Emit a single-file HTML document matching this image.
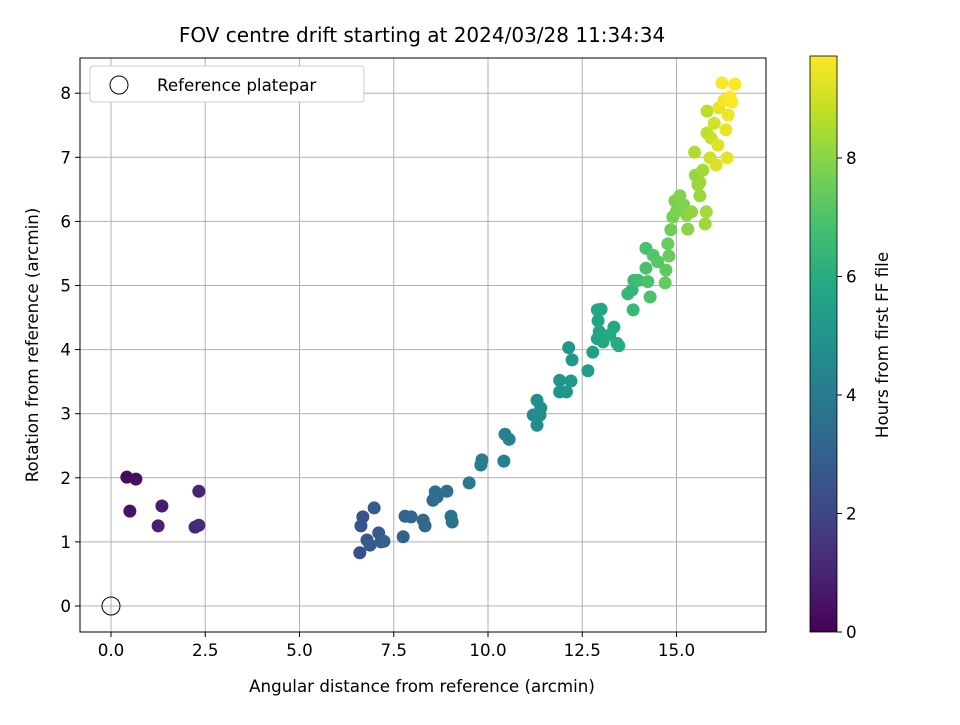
<!DOCTYPE html>
<html><head><meta charset="utf-8"><style>
body{margin:0;background:#fff;}
svg text{font-family:"DejaVu Sans","Liberation Sans",sans-serif;fill:#000;}
</style></head><body>
<svg id="chart" width="960" height="720">
<defs><linearGradient id="vir" x1="0" y1="1" x2="0" y2="0">
<stop offset="0" stop-color="#440154"/><stop offset="0.1" stop-color="#482475"/><stop offset="0.2" stop-color="#414487"/><stop offset="0.3" stop-color="#355f8d"/><stop offset="0.4" stop-color="#2a788e"/><stop offset="0.5" stop-color="#21918c"/><stop offset="0.6" stop-color="#22a884"/><stop offset="0.7" stop-color="#44bf70"/><stop offset="0.8" stop-color="#7ad151"/><stop offset="0.9" stop-color="#bddf26"/><stop offset="1" stop-color="#fde725"/>
</linearGradient></defs>
<text x="422" y="42" font-size="20" text-anchor="middle">FOV centre drift starting at 2024/03/28 11:34:34</text>
<g id="grid"></g><g id="pts"></g><g id="axes"></g>
<text x="422" y="692" font-size="16.7" text-anchor="middle">Angular distance from reference (arcmin)</text>
<text transform="translate(38,345) rotate(-90)" font-size="16.7" text-anchor="middle">Rotation from reference (arcmin)</text>
<g>
<rect x="90" y="66" width="274" height="36" rx="3" fill="#fff" stroke="#ccc"/>
<circle cx="119" cy="85" r="9" fill="none" stroke="#000"/>
<text x="157" y="91" font-size="16.7">Reference platepar</text>
</g>
<rect x="810" y="56" width="27" height="576" fill="url(#vir)" stroke="#000" stroke-width="0.8"/>
<g id="cbar"></g>
<text transform="translate(888,345) rotate(-90)" font-size="16.7" text-anchor="middle">Hours from first FF file</text>
</svg>
<script>
const xVals=[0.42,0.66,0.5,1.35,1.25,2.23,2.33,2.33,
6.6,6.63,6.68,6.79,6.87,6.98,7.1,7.16,7.24,7.75,7.8,7.96,8.28,8.33,8.54,8.6,8.65,8.91,9.02,9.05,9.5,9.81,9.84,10.42,10.45,10.56,
11.2,11.3,11.3,11.38,11.4,11.9,11.9,12.08,12.14,12.2,12.23,12.65,12.78,12.9,12.9,13.0,12.92,12.95,13.05,13.23,13.34,13.42,13.47,13.71,13.82,13.85,13.87,13.98,14.19,14.19,14.24,14.3,14.38,14.5,14.72,14.77,14.8,14.7,14.85,14.9,14.96,15.0,15.09,15.19,15.27,15.3,15.4,15.5,15.57,15.62,15.62,15.7,15.76,15.79,15.81,15.81,15.89,15.92,16.0,16.05,16.1,16.12,16.21,16.26,16.31,16.34,16.37,16.42,16.47,16.55,15.48];
const yVals=[2.01,1.98,1.48,1.56,1.25,1.23,1.26,1.79,
0.83,1.25,1.39,1.03,0.95,1.53,1.14,1.0,1.01,1.08,1.4,1.39,1.34,1.25,1.65,1.78,1.7,1.79,1.4,1.31,1.92,2.2,2.28,2.26,2.68,2.6,
2.98,3.21,2.82,2.98,3.09,3.34,3.52,3.34,4.03,3.51,3.84,3.67,3.96,4.17,4.62,4.63,4.45,4.28,4.12,4.23,4.35,4.1,4.06,4.87,4.93,4.62,5.08,5.08,5.58,5.27,5.06,4.82,5.47,5.37,5.24,5.65,5.46,5.04,5.87,6.07,6.32,6.16,6.4,6.26,6.1,5.88,6.15,6.72,6.57,6.4,6.61,6.8,5.96,6.15,7.72,7.38,6.99,7.3,7.53,6.88,7.19,7.77,8.16,7.89,7.43,6.99,7.66,7.94,7.86,8.14,7.08];
const hours=[0.3,0.4,0.5,0.8,0.9,1.1,1.2,1.0,
2.4,2.5,2.5,2.6,2.7,2.8,2.8,2.9,3.0,3.1,3.1,3.2,3.3,3.3,3.4,3.5,3.5,3.6,3.7,3.7,3.9,4.0,4.0,4.2,4.2,4.3,
4.6,4.7,4.7,4.7,4.8,5.0,5.0,5.1,5.1,5.2,5.2,5.4,5.5,5.7,5.8,5.8,5.7,5.7,5.8,5.9,5.9,6.0,6.0,6.4,6.4,6.5,6.6,6.7,6.9,6.9,7.0,7.0,7.1,7.2,7.3,7.5,7.5,7.4,7.6,7.7,7.8,7.8,7.9,7.9,8.0,8.0,8.1,8.2,8.2,8.3,8.3,8.4,8.3,8.4,8.7,8.8,9.0,8.9,9.1,9.2,9.3,9.4,9.7,9.6,9.4,9.4,9.5,9.7,9.7,9.7,8.6];
const xTicks=[0,2.5,5,7.5,10,12.5,15];
const yTicks=[0,1,2,3,4,5,6,7,8];
const cTicks=[0,2,4,6,8];
const X0=80,X1=766,Y0=58,Y1=632;
const sx=v=>111+v*37.7, sy=v=>606-v*64.1, sc=v=>632-v*59.25;
const stops=[[68,1,84],[72,36,117],[65,68,135],[53,95,141],[42,120,142],[33,145,140],[34,168,132],[68,191,112],[122,209,81],[189,223,38],[253,231,37]];
function vir(t){t=Math.max(0,Math.min(1,t))*(stops.length-1);const i=Math.min(Math.floor(t),stops.length-2),f=t-i;
return 'rgb('+stops[i].map((c,k)=>Math.round(c+(stops[i+1][k]-c)*f)).join(',')+')';}
const NS='http://www.w3.org/2000/svg';
function mk(p,tag,a){const e=document.createElementNS(NS,tag);for(const k in a)e.setAttribute(k,a[k]);document.getElementById(p).appendChild(e);return e;}
xTicks.forEach(v=>{const g=mk('grid','line',{x1:sx(v),x2:sx(v),y1:Y0,y2:Y1,stroke:'#b0b0b0','stroke-width':1});

mk('axes','line',{x1:sx(v),x2:sx(v),y1:Y1,y2:Y1+5,stroke:'#000'});
const t=mk('axes','text',{x:sx(v),y:Y1+24,'font-size':16.7,'text-anchor':'middle'});t.textContent=v.toFixed(1);
});
yTicks.forEach(v=>{const g=mk('grid','line',{x1:X0,x2:X1,y1:sy(v),y2:sy(v),stroke:'#b0b0b0','stroke-width':1});

mk('axes','line',{x1:X0-5,x2:X0,y1:sy(v),y2:sy(v),stroke:'#000'});
const t=mk('axes','text',{x:X0-9,y:sy(v)+6,'font-size':16.7,'text-anchor':'end'});t.textContent=v;
});
const fr=mk('axes','rect',{x:X0,y:Y0,width:X1-X0,height:Y1-Y0,fill:'none',stroke:'#000','stroke-width':1});

xVals.forEach((x,i)=>{const c=mk('pts','circle',{cx:sx(x),cy:sy(yVals[i]),r:6.5,fill:vir(hours[i]/9.75)});
});
const ref=mk('pts','circle',{cx:sx(0),cy:sy(0),r:9,fill:'none',stroke:'#000'});

cTicks.forEach(v=>{mk('cbar','line',{x1:837,x2:842,y1:sc(v),y2:sc(v),stroke:'#000'});
const t=mk('cbar','text',{x:846,y:sc(v)+6,'font-size':16.7});t.textContent=v;
});
</script>
</body></html>
